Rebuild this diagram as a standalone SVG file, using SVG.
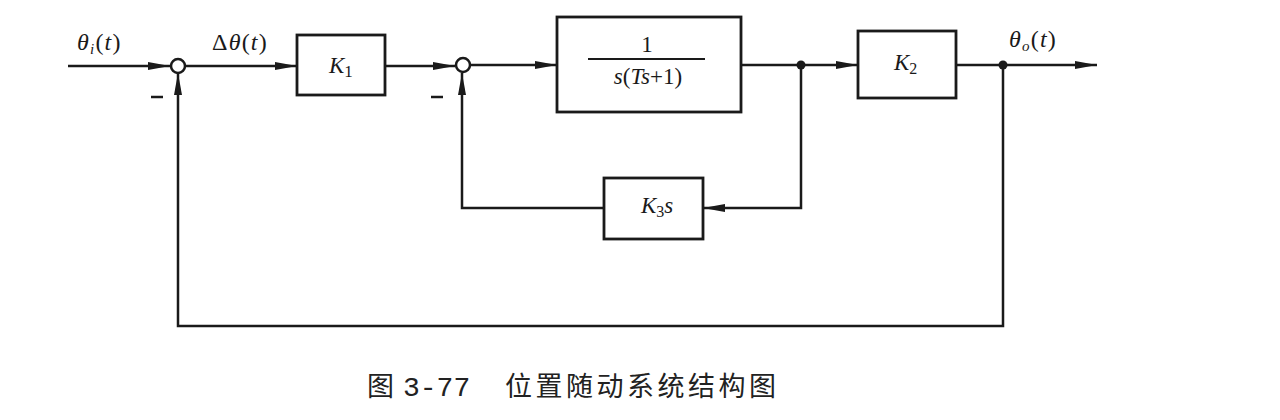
<svg xmlns="http://www.w3.org/2000/svg" width="1280" height="420" viewBox="0 0 1280 420">
<style>
.ln{fill:none;stroke:#1a1a1a;stroke-width:2.5}
.bx{fill:#fff;stroke:#1a1a1a;stroke-width:2.8}
.m{font-family:"Liberation Serif",serif;font-style:italic;font-size:23px;fill:#1a1a1a}
.lb{font-family:"Liberation Serif",serif;font-style:italic;font-size:24px;fill:#1a1a1a;letter-spacing:1.2px}
.up{font-style:normal}
.cap{font-family:"Noto Sans CJK SC",sans-serif;font-size:27px;fill:#222}
</style>
<defs>
<marker id="ar" markerWidth="22" markerHeight="10" refX="22" refY="5" orient="auto" markerUnits="userSpaceOnUse">
<path d="M0,1 L22,5 L0,9 Z" fill="#1a1a1a"/>
</marker>
</defs>
<rect width="1280" height="420" fill="#fff"/>
<g id="connectors">
<line class="ln" x1="68" y1="66" x2="170" y2="66" marker-end="url(#ar)"/>
<line class="ln" x1="185" y1="66" x2="297" y2="66" marker-end="url(#ar)"/>
<line class="ln" x1="385" y1="66" x2="455" y2="66" marker-end="url(#ar)"/>
<line class="ln" x1="470" y1="65" x2="557" y2="65" marker-end="url(#ar)"/>
<line class="ln" x1="741" y1="65" x2="858" y2="65" marker-end="url(#ar)"/>
<line class="ln" x1="956" y1="65" x2="1097" y2="65" marker-end="url(#ar)"/>
<polyline class="ln" points="801,65 801,208 703,208" marker-end="url(#ar)"/>
<polyline class="ln" points="604,208 462,208 462,73" marker-end="url(#ar)"/>
<polyline class="ln" points="1003,65 1003,326 178,326 178,73" marker-end="url(#ar)"/>
<circle cx="801" cy="65" r="4.5" fill="#1a1a1a"/>
<circle cx="1003" cy="65" r="4.5" fill="#1a1a1a"/>
</g>
<g id="sum1">
<circle cx="178" cy="66" r="7" fill="#fff" stroke="#1a1a1a" stroke-width="2.5"/>
<line class="ln" x1="151" y1="97" x2="163" y2="97"/>
</g>
<g id="sum2">
<circle cx="463" cy="65" r="7" fill="#fff" stroke="#1a1a1a" stroke-width="2.5"/>
<line class="ln" x1="431" y1="97" x2="443" y2="97"/>
</g>
<g id="K1">
<rect class="bx" x="297" y="35" width="88" height="60"/>
<text class="m" x="329" y="73" font-size="25">K<tspan class="up" font-size="17" dy="4">1</tspan></text>
</g>
<g id="G">
<rect class="bx" x="557" y="17" width="184" height="95"/>
<text class="m up" x="647" y="52" text-anchor="middle">1</text>
<line x1="588" y1="59" x2="705" y2="59" stroke="#1a1a1a" stroke-width="2.2"/>
<text class="m" x="648" y="84" text-anchor="middle">s<tspan class="up">(</tspan>Ts<tspan class="up">+1)</tspan></text>
</g>
<g id="K2">
<rect class="bx" x="858" y="31" width="98" height="67"/>
<text class="m" x="894" y="70">K<tspan class="up" font-size="16" dy="4">2</tspan></text>
</g>
<g id="K3s">
<rect class="bx" x="604" y="178" width="99" height="61"/>
<text class="m" x="641" y="213">K<tspan class="up" font-size="16" dy="4">3</tspan><tspan dy="-4">s</tspan></text>
</g>
<g id="labels">
<text class="lb" x="77" y="50">θ<tspan font-size="15" dy="4">i</tspan><tspan class="up" dy="-4">(</tspan>t<tspan class="up">)</tspan></text>
<text class="lb" x="212" y="50"><tspan class="up">Δ</tspan>θ<tspan class="up">(</tspan>t<tspan class="up">)</tspan></text>
<text class="lb" x="1009" y="47">θ<tspan font-size="15" dy="4">o</tspan><tspan class="up" dy="-4">(</tspan>t<tspan class="up">)</tspan></text>
</g>
<g id="caption">
<text class="cap" x="367" y="396">图</text>
<text x="403" y="396" font-family="'Liberation Mono',monospace" font-size="28" fill="#222">3-77</text>
<text class="cap" x="505" y="396" letter-spacing="3.5">位置随动系统结构图</text>
</g>
</svg>
